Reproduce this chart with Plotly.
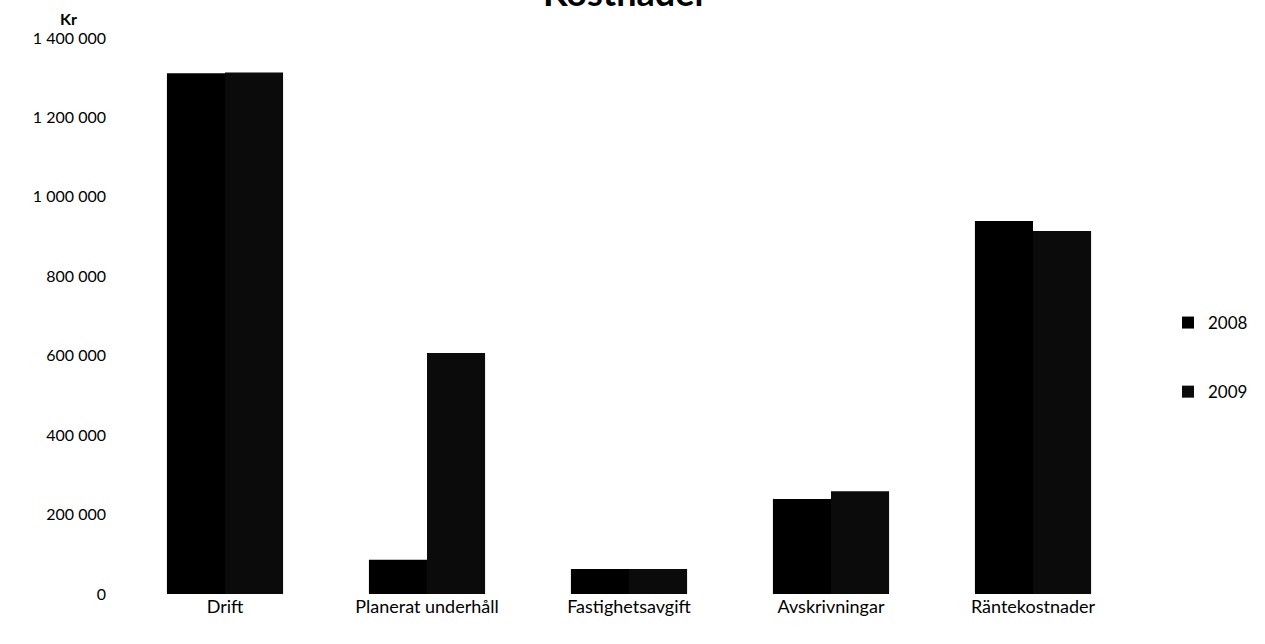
import plotly.graph_objects as go

categories = ["Drift", "Planerat underhåll", "Fastighetsavgift", "Avskrivningar", "Räntekostnader"]
values_2008 = [1311000, 86000, 63000, 239000, 939000]
values_2009 = [1313000, 607000, 63000, 259000, 914000]
y_ticks = [0, 200000, 400000, 600000, 800000, 1000000, 1200000, 1400000]

font_family = "Lato, 'Open Sans', sans-serif"

# plot area in screenshot pixels
PL, PR, PT, PB = 124, 1134, 38, 594
W, H = 1265, 644


def px(x):
    return (x - PL) / (PR - PL)


def py(y):
    return (PB - y) / (PB - PT)


fig = go.Figure()
fig.add_trace(go.Bar(name="2008", x=categories, y=values_2008, marker_color="#000000",
                     marker_line_width=0, legendgroup="a"))
fig.add_trace(go.Bar(name="2009", x=categories, y=values_2009, marker_color="#0b0b0b",
                     marker_line_width=0, legendgroup="b"))

fig.update_layout(
    width=W, height=H,
    barmode="group", bargap=0.425, bargroupgap=0,
    plot_bgcolor="white", paper_bgcolor="white",
    separators=". ",
    margin=dict(l=PL, r=W - PR, t=PT, b=H - PB, autoexpand=False),
    font=dict(family=font_family, size=16, color="black"),
    showlegend=True,
    legend=dict(x=px(1168), y=py(305), xanchor="left", yanchor="top",
                tracegroupgap=44, font=dict(size=17), itemwidth=30),
    xaxis=dict(showgrid=False, showline=False, ticks="", tickfont=dict(size=18)),
    yaxis=dict(range=[0, 1400000], tickvals=y_ticks, tickformat=",d",
               showgrid=False, showline=False, zeroline=False, ticks="",
               tickfont=dict(size=16), ticklabelstandoff=17),
    annotations=[
        dict(text="<b>Kr</b>", x=px(68), y=py(18), xref="paper", yref="paper",
             xanchor="center", yanchor="middle", showarrow=False, font=dict(size=16)),
        dict(text="<b>Kostnader</b>", x=px(625), y=py(-8), xref="paper", yref="paper",
             xanchor="center", yanchor="middle", showarrow=False, font=dict(size=36)),
    ],
)

fig.write_html("out.html", config={"displayModeBar": False},
               post_script="document.body.style.margin='0';")
